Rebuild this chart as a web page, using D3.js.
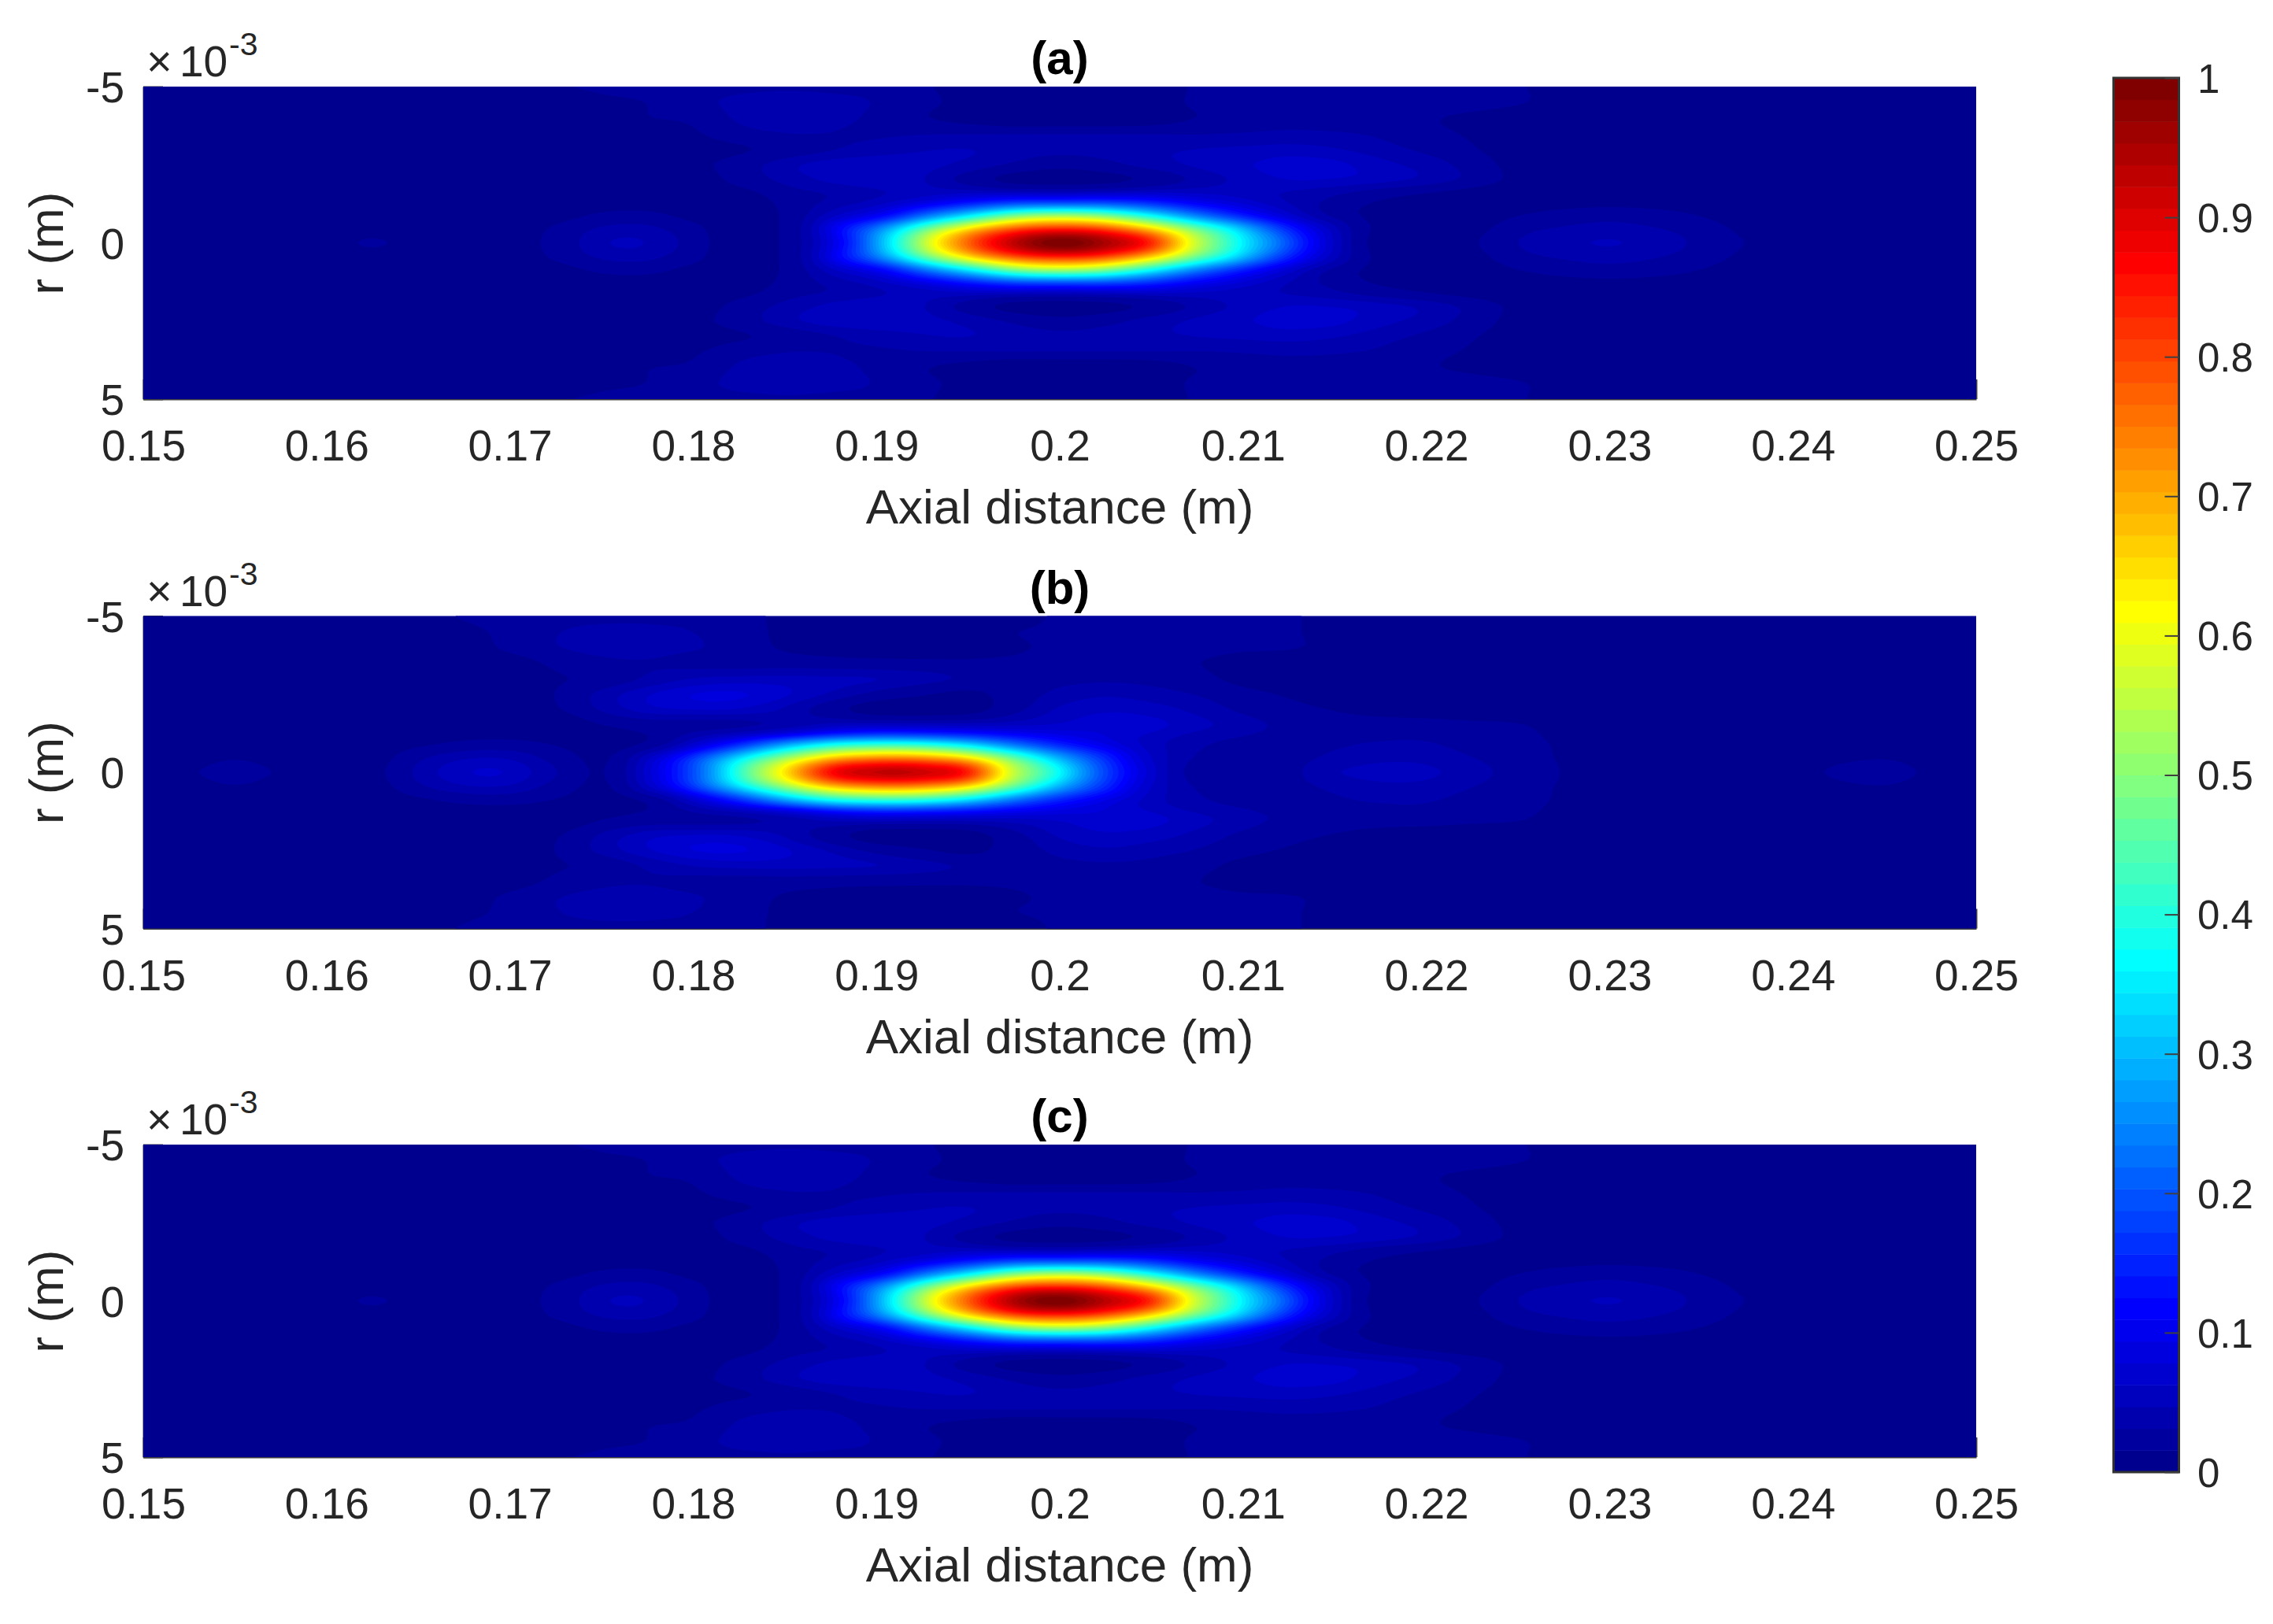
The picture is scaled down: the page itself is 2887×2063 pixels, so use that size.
<!DOCTYPE html>
<html lang="en">
<head>
  <meta charset="UTF-8" />
  <title>Normalised field maps (a), (b), (c)</title>
  <style>
    body {
      margin: 0;
      background-color: #fff;
    }

    svg {
      display: block;
    }

    text {
      font-family: "Liberation Sans", Arial, sans-serif;
      fill: #262626;
    }

    .axis path,
    .axis line {
      stroke: #404040;
      stroke-width: 2px;
    }
  </style>
</head>
<body>
  <svg></svg>

  <script src="https://cdnjs.cloudflare.com/ajax/libs/d3/7.8.5/d3.min.js"></script>
  <script>
    // Axes and ticks
    const axialTicks = [0.15, 0.16, 0.17, 0.18, 0.19, 0.2, 0.21, 0.22, 0.23, 0.24, 0.25];
    const axialLabels = ["0.15", "0.16", "0.17", "0.18", "0.19", "0.2", "0.21", "0.22", "0.23", "0.24", "0.25"];
    const radialTicks = [-5, 0, 5];
    const colorTicks = [0, 0.1, 0.2, 0.3, 0.4, 0.5, 0.6, 0.7, 0.8, 0.9, 1];
    const panelTitles = ["(a)", "(b)", "(c)"];

    // Grid the values were read on: one column every 2.5 mm axially, one row every 0.5 mm radially
    const axialGrid = d3.range(41).map(i => 0.15 + i * 0.0025);
    const radialGrid = [0, 0.5, 1, 1.5, 2, 2.5, 3, 3.5, 4, 4.5, 5];

    // Normalised intensity x 1000, rows r = 0..5 mm. The maps mirror about r = 0.
    const fieldA = [
      [7,7,7,8,9,18,9,7,10,20,44,46,24,8,18,85,270,540,770,930,1000,950,830,560,355,190,60,10,7,14,31,42,48,40,27,15,10,8,7,7,7],
      [7,7,7,7,8,8,8,7,9,17,32,34,19,8,18,90,220,420,610,750,800,760,625,445,285,140,50,12,7,11,24,32,36,31,22,12,8,7,7,7,7],
      [7,7,7,7,7,7,7,7,8,9,15,16,10,7,18,48,85,170,270,375,410,380,290,190,115,60,24,11,7,8,13,18,21,18,13,8,7,7,7,7,7],
      [7,7,7,7,7,7,7,7,7,7,7,7,8,10,22,32,45,60,78,88,88,92,88,72,58,44,31,19,13,9,7,7,7,7,7,7,7,7,7,7,7],
      [7,7,7,7,7,7,7,7,7,7,7,7,9,20,35,50,55,48,25,12,10,12,20,36,52,62,60,52,40,25,12,8,7,7,7,7,7,7,7,7,7],
      [7,7,7,7,7,7,7,7,7,7,7,8,12,22,40,56,60,52,42,28,20,26,38,50,60,70,67,52,40,24,11,7,7,7,7,7,7,7,7,7,7],
      [7,7,7,7,7,7,7,7,7,7,7,8,10,14,21,30,38,45,47,40,37,38,43,47,50,53,48,38,27,17,9,7,7,7,7,7,7,7,7,7,7],
      [7,7,7,7,7,7,7,7,7,7,7,10,14,25,31,31,29,30,30,30,30,30,30,30,32,35,33,28,19,14,8,7,7,7,7,7,7,7,7,7,7],
      [7,7,7,7,7,7,7,7,7,7,9,15,18,34,38,35,28,17,11,7,7,7,9,16,20,22,21,20,17,13,9,7,7,7,7,7,7,7,7,7,7],
      [7,7,7,7,7,7,7,7,7,8,12,16,25,36,40,36,30,19,12,8,7,7,10,18,22,24,24,23,23,22,17,10,7,7,7,7,7,7,7,7,7],
      [7,7,7,7,7,7,7,7,7,13,19,22,24,27,29,28,26,17,12,8,7,7,10,17,21,22,22,22,22,21,17,10,7,7,7,7,7,7,7,7,7]
    ];

    const fieldB = [
      [9,14,21,14,8,12,35,60,60,32,15,70,190,410,640,860,925,915,840,560,365,180,70,24,20,27,45,52,50,38,24,15,9,8,8,9,11,18,22,13,8],
      [8,10,14,10,8,10,26,42,42,24,13,55,160,320,490,640,700,690,610,440,275,150,62,30,22,26,34,42,41,31,22,14,8,7,7,8,8,12,14,10,8],
      [7,7,7,7,7,8,11,16,17,13,9,16,55,120,210,290,320,310,260,185,125,85,55,36,28,25,28,31,31,24,20,13,7,7,7,7,7,7,7,7,7],
      [7,7,7,7,7,7,7,7,7,8,15,22,25,28,38,55,62,60,58,60,66,72,68,52,38,27,24,24,24,21,17,10,7,7,7,7,7,7,7,7,7],
      [7,7,7,7,7,7,7,7,9,14,33,55,62,60,44,22,10,9,11,26,50,60,55,42,28,20,15,11,9,7,7,7,7,7,7,7,7,7,7,7,7],
      [7,7,7,7,7,7,7,7,7,16,36,60,78,80,65,44,26,17,13,22,36,44,38,30,20,14,10,8,7,7,7,7,7,7,7,7,7,7,7,7,7],
      [7,7,7,7,7,7,7,7,8,14,20,34,47,52,52,50,47,38,28,22,26,28,26,20,12,9,7,7,7,7,7,7,7,7,7,7,7,7,7,7,7],
      [7,7,7,7,7,7,7,7,10,19,27,30,26,24,24,22,20,19,18,18,19,20,19,16,11,8,7,7,7,7,7,7,7,7,7,7,7,7,7,7,7],
      [7,7,7,7,7,7,7,9,19,30,37,38,33,24,14,10,9,9,10,14,18,19,20,20,18,17,11,8,7,7,7,7,7,7,7,7,7,7,7,7,7],
      [7,7,7,7,7,7,8,12,20,30,36,36,31,22,13,10,8,8,9,15,18,20,21,21,20,18,10,8,7,7,7,7,7,7,7,7,7,7,7,7,7],
      [7,7,7,7,7,7,10,17,22,25,27,27,25,20,13,9,8,8,8,10,18,19,20,20,20,18,10,8,7,7,7,7,7,7,7,7,7,7,7,7,7]
    ];

    // (c) reads the same as (a) away from the axis, its peak sits a touch nearer the source
    const fieldC = [
      [7,7,7,8,9,18,9,7,10,20,44,46,24,8,18,85,270,540,775,945,1000,935,825,560,355,190,60,10,7,14,31,42,48,40,27,15,10,8,7,7,7],
      [7,7,7,7,8,8,8,7,9,17,32,34,19,8,18,90,220,420,615,760,800,750,620,445,285,140,50,12,7,11,24,32,36,31,22,12,8,7,7,7,7]
    ].concat(fieldA.slice(2));

    const fields = [fieldA, fieldB, fieldC];

    // Layout in pixels
    const plotLeft = 182;
    const plotRight = 2510;
    const panelTops = [110, 782.5, 1454];
    const panelHeight = 398;
    const fineStep = 6;

    const svg = d3.select("svg").attr("width", 2887).attr("height", 2063);

    // MATLAB jet(64)
    function ramp(k) {
      if (k < 1 || k > 47) return 0;
      if (k <= 16) return k / 16;
      if (k <= 31) return 1;
      return (48 - k) / 16;
    }

    function jet(i) {
      const row = i + 1;
      return d3.rgb(ramp(row - 24) * 255, ramp(row - 8) * 255, ramp(row + 8) * 255).formatHex();
    }

    const levels = d3.range(64).map(i => i / 64);

    function catmull(a, b, c, d, t) {
      return 0.5 * (2 * b + (c - a) * t + (2 * a - 5 * b + 4 * c - d) * t * t + (3 * b - a - 3 * c + d) * t * t * t);
    }

    function resample(line) {
      const out = [];
      const last = line.length - 1;
      for (let i = 0; i < last; i++) {
        for (let s = 0; s < fineStep; s++) {
          out.push(catmull(line[Math.max(i - 1, 0)], line[i], line[i + 1], line[Math.min(i + 2, last)], s / fineStep));
        }
      }
      out.push(line[last]);
      return out;
    }

    // Smooth the read values into a fine grid for the contour fill (done on the log, the lobes are near gaussian)
    function fineField(rows) {
      const full = rows.slice(1).reverse().concat(rows);
      const fineRows = full.map(row => resample(row.map(v => Math.log(v / 1000))));
      const nx = fineRows[0].length;
      const columns = d3.range(nx).map(i => resample(fineRows.map(row => row[i])));
      const ny = columns[0].length;
      const values = new Float64Array(nx * ny);
      for (let j = 0; j < ny; j++) {
        for (let i = 0; i < nx; i++) values[j * nx + i] = Math.exp(columns[i][j]);
      }
      return { nx, ny, values };
    }

    const x = d3.scaleLinear()
      .domain([axialGrid[0], axialGrid[axialGrid.length - 1]])
      .range([plotLeft, plotRight]);

    panelTitles.forEach((title, p) => {
      const top = panelTops[p];
      const y = d3.scaleLinear().domain([-5, 5]).range([top, top + panelHeight - 1]);
      const g = svg.append("g");

      // Axes go first, the fill covers the inward ticks just as in the original
      g.append("g")
        .attr("class", "axis")
        .attr("transform", `translate(0,${top + panelHeight - 1})`)
        .call(d3.axisBottom(x).tickValues(axialTicks).tickSizeInner(-25).tickSizeOuter(0)
          .tickFormat((d, i) => axialLabels[i]))
        .call(a => a.selectAll("text")
          .attr("y", 78)
          .attr("dy", null)
          .attr("font-size", 55));

      g.append("g")
        .attr("class", "axis")
        .attr("transform", `translate(${plotLeft},0)`)
        .call(d3.axisLeft(y).tickValues(radialTicks).tickSizeInner(-25).tickSizeOuter(0).tickPadding(24)
          .tickFormat(d => String(d)))
        .call(a => a.selectAll("text")
          .attr("x", -24)
          .attr("dy", "0.36em")
          .attr("font-size", 55));

      // Filled contours
      const { nx, ny, values } = fineField(fields[p]);
      const fineX = d3.scaleLinear().domain([0.5, nx - 0.5]).range(x.domain());
      const fineY = d3.scaleLinear().domain([0.5, ny - 0.5]).range(y.domain());
      const path = d3.geoPath(d3.geoTransform({
        point(px, py) {
          this.stream.point(x(fineX(px)), y(fineY(py)));
        }
      }));

      const clipId = `plot-clip-${p}`;
      g.append("clipPath").attr("id", clipId)
        .append("rect")
        .attr("x", plotLeft)
        .attr("y", top)
        .attr("width", plotRight - plotLeft)
        .attr("height", panelHeight - 1);

      g.append("g")
        .attr("clip-path", `url(#${clipId})`)
        .selectAll("path")
        .data(d3.contours().size([nx, ny]).thresholds(levels)(values))
        .join("path")
        .attr("d", path)
        .attr("fill", (d, i) => jet(i));

      // Title, scale factor, labels
      g.append("text")
        .attr("x", x(0.2))
        .attr("y", top - 16)
        .attr("text-anchor", "middle")
        .attr("font-size", 60)
        .attr("font-weight", "bold")
        .style("fill", "#000")
        .text(title);

      g.append("text")
        .attr("x", plotLeft + 4)
        .attr("y", top - 13)
        .attr("font-size", 56)
        .text("×");

      g.append("text")
        .attr("x", plotLeft + 46)
        .attr("y", top - 13)
        .attr("font-size", 55)
        .text("10");

      g.append("text")
        .attr("x", plotLeft + 109)
        .attr("y", top - 40)
        .attr("font-size", 41)
        .text("-3");

      g.append("text")
        .attr("x", x(0.2))
        .attr("y", top + panelHeight + 157)
        .attr("text-anchor", "middle")
        .attr("font-size", 62)
        .text("Axial distance (m)");

      g.append("text")
        .attr("transform", `translate(80,${top + panelHeight / 2}) rotate(-90)`)
        .attr("text-anchor", "middle")
        .attr("font-size", 62)
        .text("r (m)");
    });

    // Colour bar
    const barLeft = 2684.5;
    const barRight = 2767.5;
    const barScale = d3.scaleLinear().domain([0, 1]).range([1870, 99]);
    const bar = svg.append("g");

    bar.selectAll("rect.band")
      .data(levels)
      .join("rect")
      .attr("class", "band")
      .attr("x", barLeft)
      .attr("width", barRight - barLeft)
      .attr("y", d => barScale(d + 1 / 64))
      .attr("height", d => barScale(d) - barScale(d + 1 / 64) + 0.5)
      .attr("fill", (d, i) => jet(i));

    bar.append("rect")
      .attr("x", barLeft)
      .attr("y", barScale(1))
      .attr("width", barRight - barLeft)
      .attr("height", barScale(0) - barScale(1))
      .attr("fill", "none")
      .attr("stroke", "#333")
      .attr("stroke-width", 3);

    bar.append("g")
      .attr("class", "axis")
      .attr("transform", `translate(${barRight},0)`)
      .call(d3.axisRight(barScale).tickValues(colorTicks).tickSizeInner(-18).tickSizeOuter(0).tickPadding(23.5)
        .tickFormat(d => String(d)))
      .call(a => a.select(".domain").remove())
      .call(a => a.selectAll("line").attr("stroke", "#262626"))
      .call(a => a.selectAll("text")
        .attr("dy", "0.36em")
        .attr("font-size", 51));
  </script>
</body>
</html>
